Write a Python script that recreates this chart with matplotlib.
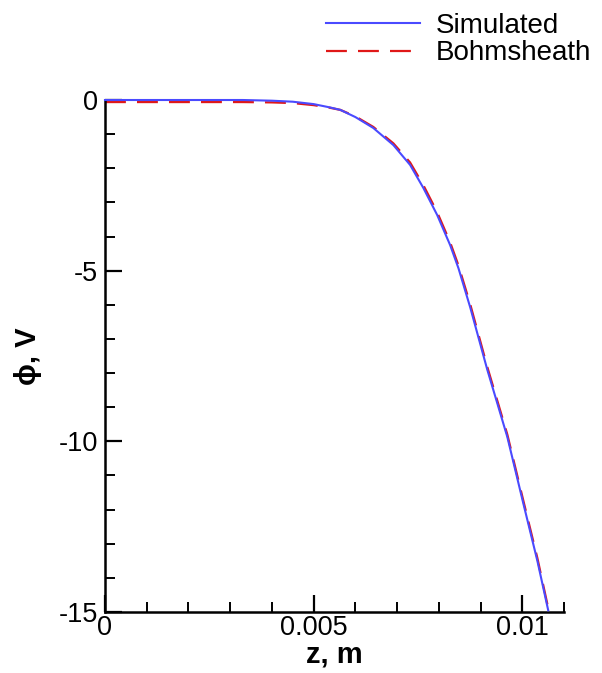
import matplotlib

matplotlib.use("Agg")
import matplotlib.pyplot as plt
from matplotlib.ticker import MultipleLocator, FixedLocator, FixedFormatter

plt.rcParams["font.family"] = ["Liberation Sans", "DejaVu Sans"]
plt.rcParams["axes.unicode_minus"] = False

# potential profile along z (m) -> phi (V)
z_sim = [0.0, 0.0010, 0.0020, 0.0033, 0.0040, 0.0045, 0.0050, 0.0054, 0.00564,
         0.0060, 0.00643, 0.00691, 0.00731, 0.00763, 0.00796, 0.00827, 0.00847,
         0.00875, 0.00916, 0.00964, 0.01002, 0.01036, 0.01062]
phi_sim = [0.0, 0.0, 0.0, 0.0, -0.02, -0.05, -0.12, -0.22, -0.29, -0.50, -0.82,
           -1.32, -1.90, -2.58, -3.37, -4.25, -4.93, -6.07, -7.90, -9.87, -11.80,
           -13.50, -14.95]

z_bohm = [0.0, 0.0010, 0.0020, 0.0033, 0.0040, 0.0045, 0.0050, 0.0054, 0.00564,
          0.0060, 0.00643, 0.00691, 0.00731, 0.00763, 0.00796, 0.00827, 0.00847,
          0.00875, 0.00916, 0.00964, 0.01002, 0.01036, 0.01064]
phi_bohm = [-0.06, -0.06, -0.06, -0.06, -0.07, -0.09, -0.15, -0.23, -0.29, -0.48,
            -0.79, -1.27, -1.83, -2.50, -3.29, -4.17, -4.85, -5.98, -7.82, -9.80,
            -11.72, -13.42, -15.0]

x_major = [0.0, 0.005, 0.01]
x_labels = ["0", "0.005", "0.01"]

fig = plt.figure(figsize=(6.02, 6.73), dpi=100)
ax = fig.add_axes([0.1744, 0.0906, 0.7626, 0.7608])

ax.plot(z_sim, phi_sim, color="#4a4aff", lw=1.5, label="Simulated", clip_on=False, zorder=3)
ax.plot(z_bohm, phi_bohm, color="#e01818", lw=1.6, dashes=(9.4, 5.0), label="Bohmsheath",
        clip_on=False, zorder=2)

ax.set_xlim(0, 0.011)
ax.set_ylim(-15, 0)

ax.xaxis.set_major_locator(FixedLocator(x_major))
ax.xaxis.set_major_formatter(FixedFormatter(x_labels))
ax.xaxis.set_minor_locator(MultipleLocator(0.001))
ax.yaxis.set_major_locator(MultipleLocator(5))
ax.yaxis.set_minor_locator(MultipleLocator(1))

for s in ("top", "right"):
    ax.spines[s].set_visible(False)
for s in ("left", "bottom"):
    ax.spines[s].set_linewidth(1.8)

ax.tick_params(which="major", direction="in", length=12, width=1.6, labelsize=19.5, pad=2)
ax.tick_params(which="minor", direction="in", length=7, width=1.4)
ax.tick_params(axis="y", which="major", pad=5)

ax.set_xlabel("z, m", fontsize=21, fontweight="bold", labelpad=0)
ax.set_ylabel("ϕ, V", fontsize=21, fontweight="bold", labelpad=12)

fig.legend(loc="upper left", bbox_to_anchor=(0.50, 1.018), frameon=False, fontsize=20,
           handlelength=3.4, handletextpad=0.55, labelspacing=0.05)

fig.savefig("out.png", dpi=100)
